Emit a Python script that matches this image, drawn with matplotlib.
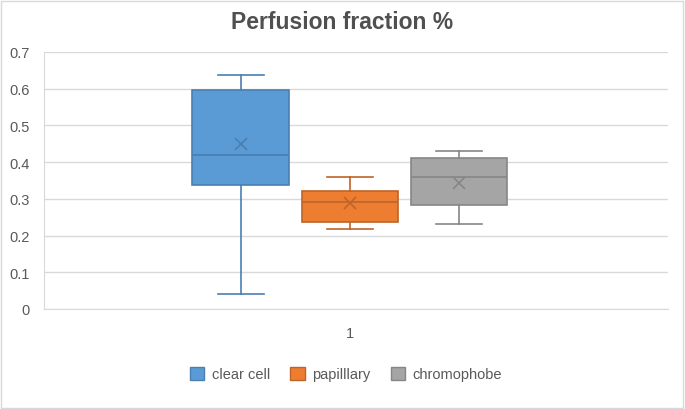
import matplotlib.pyplot as plt
from matplotlib.patches import Patch, Rectangle

plt.rcParams['font.family'] = ['Liberation Sans', 'DejaVu Sans']

# box plot statistics
groups = ['clear cell', 'papilllary', 'chromophobe']
whis_lo = [0.04, 0.217, 0.23]
q1 = [0.337, 0.236, 0.283]
med = [0.419, 0.291, 0.36]
q3 = [0.597, 0.321, 0.41]
whis_hi = [0.638, 0.36, 0.43]
means = [0.45, 0.288, 0.343]

faces = ['#5B9BD5', '#ED7D31', '#A5A5A5']
edges = ['#4A7FB0', '#BE6428', '#868686']

fig = plt.figure(figsize=(6.85, 4.1), dpi=100)
ax = fig.add_axes([0.064, 0.244, 0.911, 0.627])

stats = []
for i in range(len(groups)):
    stats.append({'label': groups[i], 'whislo': whis_lo[i], 'q1': q1[i], 'med': med[i],
                  'q3': q3[i], 'whishi': whis_hi[i], 'mean': means[i], 'fliers': []})

pos = [1, 2, 3]
for i in range(len(groups)):
    bp = ax.bxp([stats[i]], positions=[pos[i]], widths=0.88, patch_artist=True,
                showmeans=True, showfliers=False,
                boxprops=dict(facecolor=faces[i], edgecolor=edges[i], linewidth=1.2),
                medianprops=dict(color=edges[i], linewidth=1.2),
                whiskerprops=dict(color=edges[i], linewidth=1.2),
                capprops=dict(color=edges[i], linewidth=1.2),
                meanprops=dict(marker='x', markeredgecolor=edges[i], markersize=9,
                               markeredgewidth=1.2),
                capwidths=0.42)

ax.set_xlim(-0.80, 4.91)
ax.set_ylim(0, 0.7)
ax.set_yticks([0, 0.1, 0.2, 0.3, 0.4, 0.5, 0.6, 0.7])
ax.set_yticklabels(['0', '0.1', '0.2', '0.3', '0.4', '0.5', '0.6', '0.7'])
ax.set_xticks([2])
ax.set_xticklabels(['1'])
ax.tick_params(axis='both', length=0, labelsize=10.5, colors='#595959', pad=12)
ax.tick_params(axis='y', pad=10)
ax.grid(axis='y', color='#d9d9d9', linewidth=1)
ax.set_axisbelow(True)
for s in ['top', 'right']:
    ax.spines[s].set_visible(False)
for s in ['left', 'bottom']:
    ax.spines[s].set_color('#d9d9d9')

fig.text(0.5, 0.945, 'Perfusion fraction %', ha='center', va='center',
         fontsize=16.5, fontweight='bold', color='#505050')

handles = [Patch(facecolor=faces[i], edgecolor=edges[i], label=groups[i]) for i in range(3)]
fig.legend(handles=handles, loc='center', bbox_to_anchor=(0.505, 0.085), ncol=3,
           frameon=False, fontsize=10.5, handlelength=1.0, handleheight=1.0,
           handletextpad=0.5, columnspacing=1.4, labelcolor='#595959')

fig.patches.append(Rectangle((0.002, 0.003), 0.995, 0.993, transform=fig.transFigure,
                             fill=False, edgecolor='#d9d9d9', linewidth=1))

fig.savefig('out.png', dpi=100)
